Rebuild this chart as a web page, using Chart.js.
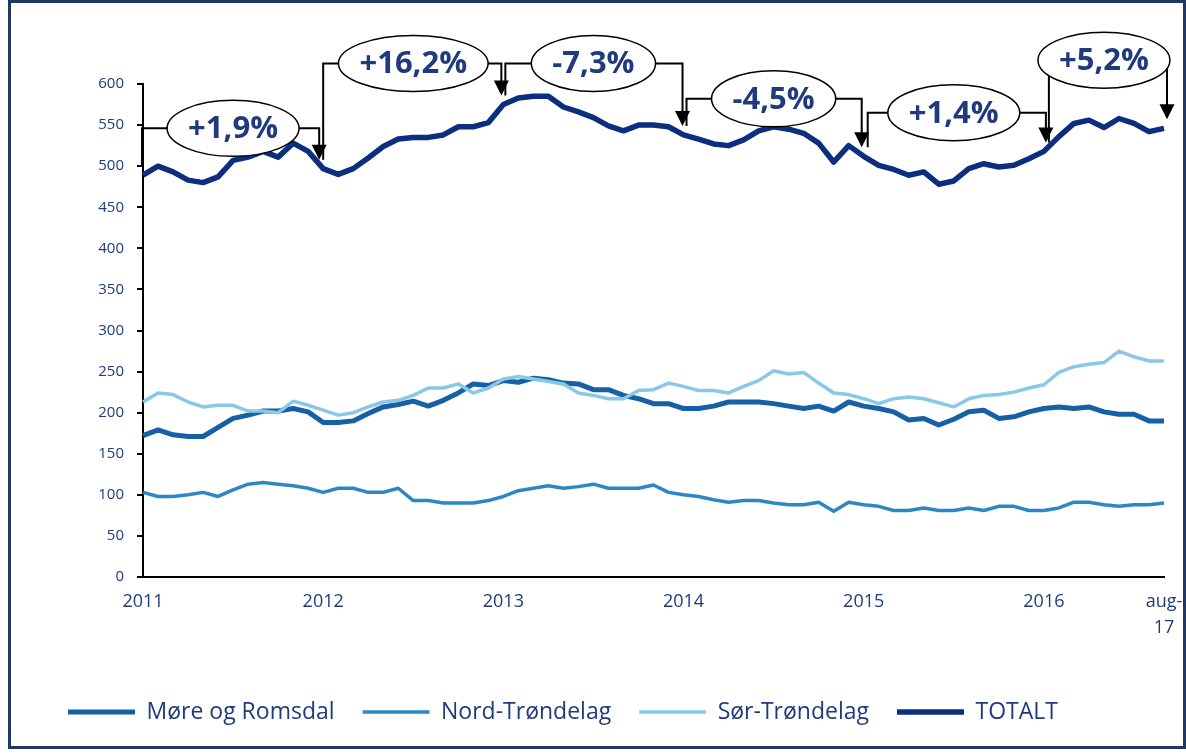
<!DOCTYPE html>
<html>
<head>
<meta charset="utf-8">
<script src="https://cdn.jsdelivr.net/npm/chart.js@4.4.1/dist/chart.umd.min.js"></script>
<style>
  html, body { margin: 0; padding: 0; background: #ffffff; }
  #wrap { width: 1186px; height: 756px; position: relative; }
  canvas { display: block; }
</style>
</head>
<body>
<div id="wrap"><canvas id="c" width="1186" height="756"></canvas></div>
<script>
// ---------- DATA ----------
const xTickLabels = ['2011', '2012', '2013', '2014', '2015', '2016', ['aug-', '17']];
const xTickIndex = [0, 12, 24, 36, 48, 60, 68];
const pointCount = 69;

const seriesNames = ['Møre og Romsdal', 'Nord-Trøndelag', 'Sør-Trøndelag', 'TOTALT'];

const moreRomsdal = [172, 179, 173, 171, 171, 182, 193, 197, 202, 202, 205, 201,
  188, 188, 190, 199, 207, 210, 214, 208, 215, 224, 235, 233,
  239, 237, 242, 240, 236, 235, 228, 228, 221, 217, 211, 211,
  205, 205, 208, 213, 213, 213, 211, 208, 205, 208, 202, 213,
  208, 205, 201, 191, 193, 185, 192, 201, 203, 193, 195, 201,
  205, 207, 205, 207, 201, 198, 198, 190, 190];

const nordTrondelag = [103, 98, 98, 100, 103, 98, 106, 113, 115, 113, 111, 108,
  103, 108, 108, 103, 103, 108, 93, 93, 90, 90, 90, 93,
  98, 105, 108, 111, 108, 110, 113, 108, 108, 108, 112, 103,
  100, 98, 94, 91, 93, 93, 90, 88, 88, 91, 80, 91,
  88, 86, 81, 81, 84, 81, 81, 84, 81, 86, 86, 81,
  81, 84, 91, 91, 88, 86, 88, 88, 90];

const sorTrondelag = [213, 224, 222, 213, 207, 209, 209, 202, 202, 200, 214, 209,
  203, 197, 200, 207, 213, 215, 221, 230, 230, 235, 224, 230,
  241, 244, 241, 238, 235, 224, 221, 217, 217, 227, 228, 236,
  232, 227, 227, 224, 232, 239, 251, 247, 249, 236, 224, 222,
  217, 211, 217, 219, 217, 212, 207, 217, 221, 222, 225, 230,
  234, 249, 256, 259, 261, 275, 268, 263, 263];

const totalt = [489, 500, 493, 483, 480, 487, 507, 511, 518, 511, 528, 518,
  497, 490, 497, 510, 524, 533, 535, 535, 538, 548, 548, 553,
  575, 583, 585, 585, 572, 566, 559, 549, 543, 550, 550, 548,
  538, 533, 527, 525, 532, 543, 548, 545, 540, 528, 505, 525,
  512, 501, 496, 489, 493, 478, 482, 497, 503, 499, 501, 509,
  518, 536, 552, 556, 547, 558, 552, 542, 546];

// change annotations (bracket from index -> to index, label, level of the bracket)
const annFrom = [0, 12, 24, 36, 48, 60];
const annTo = [12, 24, 36, 48, 60, 68];
const annLabels = ['+1,9%', '+16,2%', '-7,3%', '-4,5%', '+1,4%', '+5,2%'];
const annLevel = [546, 625, 625, 582, 565, 629];

// ---------- BUILD ----------
const categories = [];
for (let i = 0; i < pointCount; i++) {
  const k = xTickIndex.indexOf(i);
  categories.push(k >= 0 ? xTickLabels[k] : '');
}

const NAVY_TEXT = '#1f3b7d';
const colors = ['#1660a5', '#2b88c5', '#8ac8e8', '#0b2e7e'];
const widths = [5, 3.5, 3.5, 5.5];
const orders = [4, 3, 2, 1];
const values = [moreRomsdal, nordTrondelag, sorTrondelag, totalt];

Chart.defaults.font.family = "'Open Sans', sans-serif";

const frame = {
  id: 'frame',
  beforeDraw(chart) {
    const ctx = chart.ctx;
    ctx.save();
    ctx.fillStyle = '#ffffff';
    ctx.fillRect(0, 0, chart.width, chart.height);
    ctx.strokeStyle = '#1f3864';
    ctx.lineWidth = 3;
    ctx.strokeRect(9.5, 1.5, 1175, 746);
    ctx.restore();
  }
};

const startOff = [-1, 0, 2, 3, 4, 5];
const endOff = [-4, -2, -1, -2, 2, 3];

const brackets = {
  id: 'brackets',
  afterDatasetsDraw(chart) {
    const { ctx } = chart;
    const x = chart.scales.x, y = chart.scales.y;
    ctx.save();
    ctx.font = "bold 31px 'Open Sans'";
    annLabels.forEach((lab, k) => {
      const xa = x.getPixelForValue(annFrom[k]);
      const xb = x.getPixelForValue(annTo[k]);
      const xs = xa + startOff[k];
      const xe = xb + endOff[k];
      const ys = y.getPixelForValue(totalt[annFrom[k]]) - 9;
      const ye = y.getPixelForValue(totalt[annTo[k]]) - 9;
      const yl = y.getPixelForValue(annLevel[k]);
      ctx.strokeStyle = '#000';
      ctx.lineWidth = 2;
      ctx.lineCap = 'butt';
      ctx.beginPath();
      ctx.moveTo(xs, ys);
      ctx.lineTo(xs, yl);
      ctx.lineTo(xe, yl);
      ctx.lineTo(xe, ye - 13);
      ctx.stroke();
      ctx.fillStyle = '#000';
      ctx.beginPath();
      ctx.moveTo(xe - 7.5, ye - 15);
      ctx.lineTo(xe + 7.5, ye - 15);
      ctx.lineTo(xe, ye);
      ctx.closePath();
      ctx.fill();
      const cx = (xa + xb) / 2;
      const w = ctx.measureText(lab).width;
      const rx = w / 2 + 21, ry = 28;
      ctx.beginPath();
      ctx.ellipse(cx, yl, rx, ry, 0, 0, Math.PI * 2);
      ctx.fillStyle = '#ffffff';
      ctx.fill();
      ctx.lineWidth = 1.5;
      ctx.stroke();
      ctx.fillStyle = NAVY_TEXT;
      ctx.textAlign = 'center';
      ctx.textBaseline = 'middle';
      ctx.fillText(lab, cx, yl + 1);
    });
    ctx.restore();
  }
};

new Chart(document.getElementById('c'), {
  type: 'line',
  data: {
    labels: categories,
    datasets: seriesNames.map((name, i) => ({
      label: name,
      data: values[i],
      borderColor: colors[i],
      backgroundColor: colors[i],
      borderWidth: widths[i],
      pointRadius: 0,
      tension: 0,
      fill: false,
      borderJoinStyle: 'round',
      borderCapStyle: 'butt',
      order: orders[i]
    }))
  },
  options: {
    responsive: false,
    animation: false,
    events: [],
    layout: { autoPadding: false, padding: { left: 40, right: 22, top: 84, bottom: 22.5 } },
    scales: {
      x: {
        type: 'category',
        offset: false,
        grid: { display: false, drawTicks: false },
        border: { display: true, color: '#000', width: 2 },
        ticks: {
          autoSkip: false, maxRotation: 0, minRotation: 0,
          padding: 12,
          color: NAVY_TEXT,
          font: { size: 18, lineHeight: 1.45 }
        },
        afterFit(s) { s.height = 95.5; s.paddingLeft = 0; s.paddingRight = 0; }
      },
      y: {
        min: 0, max: 600,
        grid: { display: true, drawOnChartArea: false, drawTicks: true, tickLength: 6, color: '#000', lineWidth: 2 },
        border: { display: true, color: '#000', width: 2 },
        ticks: { stepSize: 50, padding: 13, color: NAVY_TEXT, font: { size: 15 } },
        afterFit(s) { s.width = 103; }
      }
    },
    plugins: {
      title: { display: false },
      tooltip: { enabled: false },
      legend: {
        display: true,
        position: 'bottom',
        align: 'start',
        labels: {
          usePointStyle: true,
          pointStyle: 'line',
          pointStyleWidth: 67,
          padding: 28,
          color: NAVY_TEXT,
          font: { size: 23 },
          sort: (a, b) => a.datasetIndex - b.datasetIndex
        }
      }
    }
  },
  plugins: [frame, brackets]
});
</script>
</body>
</html>
